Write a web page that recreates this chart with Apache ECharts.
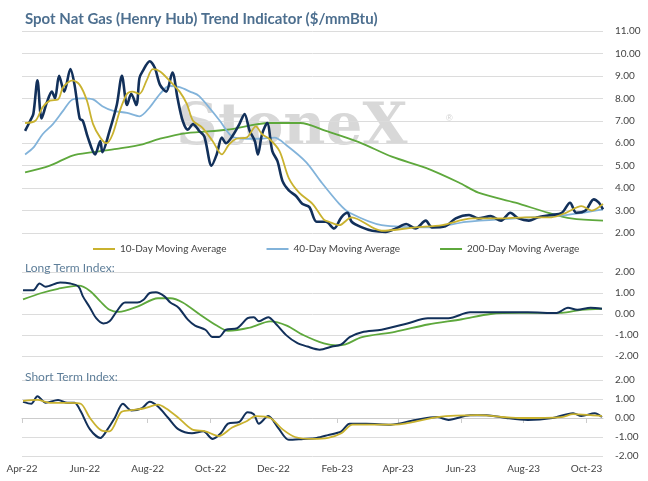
<!DOCTYPE html>
<html>
<head>
<meta charset="utf-8">
<script src="https://cdn.jsdelivr.net/npm/echarts@6/dist/echarts.min.js"></script>
<style>
    html, body { margin: 0; padding: 0; background: #fff; }
    #chart { width: 648px; height: 481px; }
</style>
</head>
<body>
<div id="chart"></div>
<script>
// day offsets from 2022-04-01, value
const price = [[3,6.55],[8,7.0],[11,7.3],[15,8.8],[19,7.1],[24,7.8],[29,8.3],[32,8.0],[36,9.0],[41,8.3],[47,9.3],[51,8.6],[56,7.1],[59,7.0],[64,6.25],[71,5.5],[76,6.1],[78,5.6],[85,6.55],[92,7.7],[97,9.0],[102,7.7],[106,8.2],[111,7.7],[114,8.9],[117,9.2],[124,9.65],[129,9.35],[134,8.6],[140,8.3],[146,9.15],[151,8.0],[156,7.0],[161,6.6],[166,6.85],[172,6.55],[177,6.3],[184,5.0],[189,5.5],[194,6.25],[198,6.0],[204,6.3],[211,6.85],[216,7.3],[221,6.55],[226,6.1],[229,5.5],[233,6.4],[238,6.9],[243,5.65],[248,5.2],[253,4.3],[259,3.9],[266,3.65],[272,3.3],[279,3.15],[286,2.5],[295,2.5],[303,2.2],[310,2.7],[316,2.9],[320,2.5],[330,2.25],[340,2.1],[353,2.05],[363,2.2],[373,2.4],[382,2.2],[392,2.55],[398,2.25],[411,2.3],[421,2.65],[434,2.8],[443,2.65],[455,2.75],[465,2.55],[474,2.9],[482,2.65],[492,2.55],[501,2.7],[514,2.8],[524,2.9],[532,3.35],[538,2.9],[547,3.0],[555,3.5],[560,3.35],[564,3.05]];
const ma10 = [[3,6.9],[13,7.0],[20,7.6],[27,7.9],[35,7.95],[40,8.5],[49,8.8],[56,8.6],[63,7.9],[69,6.85],[76,6.25],[82,6.0],[88,6.4],[95,7.45],[102,8.2],[107,8.3],[114,8.2],[121,8.8],[127,9.3],[134,9.2],[143,8.8],[153,8.3],[160,7.75],[166,7.0],[175,6.7],[185,6.1],[194,5.5],[201,5.95],[208,6.2],[218,6.25],[227,6.75],[233,6.4],[240,6.2],[250,5.65],[259,4.45],[269,3.8],[282,3.3],[293,2.6],[298,2.5],[308,2.35],[320,2.7],[349,2.1],[382,2.25],[408,2.35],[437,2.65],[463,2.65],[489,2.7],[514,2.7],[528,2.9],[543,3.2],[553,3.0],[564,3.3]];
const ma40 = [[3,5.5],[11,5.8],[20,6.4],[30,6.85],[40,7.45],[49,7.95],[59,8.0],[69,7.95],[78,7.65],[88,7.45],[102,7.35],[114,7.2],[124,7.6],[134,8.2],[143,8.55],[153,8.5],[163,8.3],[172,8.1],[192,7.0],[204,6.3],[218,6.2],[230,6.2],[245,6.25],[257,5.9],[276,5.15],[290,4.3],[308,3.3],[318,2.9],[349,2.35],[398,2.25],[431,2.5],[479,2.65],[528,2.8],[564,3.05]];
const ma200 = [[3,4.7],[27,5.0],[49,5.45],[69,5.6],[92,5.75],[117,5.95],[134,6.2],[160,6.45],[199,6.6],[240,6.9],[270,6.9],[295,6.55],[327,6.05],[359,5.4],[392,4.9],[424,4.25],[443,3.8],[479,3.35],[511,2.9],[533,2.65],[564,2.55]];
const longIdx = [[1,1.13],[11,1.13],[17,1.45],[23,1.3],[37,1.5],[47,1.45],[55,1.3],[59,0.85],[66,0.3],[72,-0.2],[79,-0.45],[85,-0.35],[92,0.13],[100,0.55],[112,0.55],[118,0.68],[124,1.0],[130,1.03],[138,0.85],[144,0.55],[152,0.3],[161,-0.27],[168,-0.55],[178,-0.75],[185,-1.1],[191,-1.1],[198,-0.75],[209,-0.67],[219,-0.2],[225,-0.15],[230,-0.35],[239,-0.15],[247,-0.5],[257,-1.03],[267,-1.38],[277,-1.55],[289,-1.7],[301,-1.55],[310,-1.45],[318,-1.1],[330,-0.87],[349,-0.75],[374,-0.45],[394,-0.2],[414,-0.2],[435,0.08],[463,0.08],[491,0.08],[519,0.05],[530,0.3],[539,0.2],[552,0.3],[563,0.25]];
const longSignal = [[1,0.7],[19,1.0],[35,1.2],[55,1.35],[66,1.1],[76,0.6],[85,0.2],[94,0.1],[112,0.35],[132,0.75],[144,0.75],[156,0.55],[172,0.0],[189,-0.55],[200,-0.8],[221,-0.65],[241,-0.35],[257,-0.55],[273,-1.0],[293,-1.4],[306,-1.5],[314,-1.45],[330,-1.1],[362,-0.85],[394,-0.5],[427,-0.25],[455,0.0],[483,0.05],[524,0.05],[543,0.2],[563,0.25]];
const shortIdx = [[1,0.85],[9,0.75],[15,1.15],[23,0.8],[35,0.95],[44,0.8],[51,0.8],[57,0.35],[66,-0.6],[76,-1.05],[83,-0.6],[90,0.0],[98,0.75],[106,0.4],[116,0.5],[124,0.85],[132,0.6],[142,0.0],[152,-0.6],[165,-0.8],[176,-0.7],[185,-1.1],[193,-0.8],[200,-0.3],[211,-0.2],[219,0.3],[225,0.2],[230,-0.3],[239,0.1],[249,-0.55],[259,-1.15],[273,-1.1],[286,-1.05],[297,-0.9],[310,-0.7],[318,-0.3],[334,-0.3],[358,-0.35],[382,-0.1],[403,0.05],[414,-0.1],[435,0.15],[451,0.15],[470,0.0],[491,-0.1],[515,0.0],[535,0.25],[543,0.1],[556,0.25],[563,0.05]];
const shortSignal = [[1,0.9],[15,0.95],[27,0.8],[47,0.8],[57,0.75],[66,0.0],[77,-0.65],[85,-0.7],[96,0.3],[104,0.4],[118,0.5],[132,0.7],[140,0.5],[152,0.0],[165,-0.6],[178,-0.7],[191,-0.95],[204,-0.5],[217,-0.2],[227,0.1],[241,0.0],[253,-0.6],[265,-1.0],[282,-1.1],[297,-1.05],[310,-0.8],[321,-0.35],[362,-0.35],[403,0.05],[442,0.15],[483,0.0],[524,0.05],[535,0.2],[552,0.15],[563,0.1]];
const monthTicks = ['2022-04-01','2022-06-01','2022-08-01','2022-10-01','2022-12-01','2023-02-01','2023-04-01','2023-06-01','2023-08-01','2023-10-01'];
const monthNames = ['Jan','Feb','Mar','Apr','May','Jun','Jul','Aug','Sep','Oct','Nov','Dec'];

const START = Date.UTC(2022, 3, 1);
const DAY = 86400000;
const toTime = arr => arr.map(p => [START + p[0] * DAY, p[1]]);
const tickTimes = monthTicks.map(s => Date.parse(s + 'T00:00:00Z'));
const xMax = Date.UTC(2023, 9, 17);

const chart = echarts.init(document.getElementById('chart'));
const font = 'Lato, "Open Sans", sans-serif';
const navy = '#12305a', gold = '#c9b22f', blue = '#82b3da', green = '#5ea83c';

function xAxis(idx, showLabels) {
    return {
        type: 'value', gridIndex: idx, min: START, max: xMax,
        axisLine: { show: showLabels, lineStyle: { color: '#ccc' } },
        axisTick: { show: showLabels, customValues: tickTimes, lineStyle: { color: '#ccc' } },
        splitLine: { show: false },
        axisLabel: {
            show: showLabels, customValues: tickTimes, color: '#444', fontSize: 10, fontFamily: font, margin: 8,
            formatter: v => { const d = new Date(v); return monthNames[d.getUTCMonth()] + '-' + String(d.getUTCFullYear()).slice(2); }
        }
    };
}
function yAxis(idx, min, max) {
    return {
        type: 'value', gridIndex: idx, position: 'right', min: min, max: max, interval: 1,
        axisLine: { show: false }, axisTick: { show: false },
        splitLine: { lineStyle: { color: '#dcdcdc' } },
        axisLabel: { color: '#444', fontSize: 10, fontFamily: font, margin: 12, formatter: v => v.toFixed(2) }
    };
}
function line(name, data, color, width, xi) {
    return { name: name, type: 'line', data: toTime(data), xAxisIndex: xi, yAxisIndex: xi,
        showSymbol: false, smooth: 0.3, lineStyle: { color: color, width: width }, itemStyle: { color: color } };
}

chart.setOption({
    animation: false,
    title: [
        { text: 'Spot Nat Gas (Henry Hub) Trend Indicator ($/mmBtu)', left: 20, top: 7,
          textStyle: { color: '#4d6f8f', fontSize: 15, fontWeight: 'bold', fontFamily: font } },
        { text: 'Long Term Index:', left: 20, top: 257, textStyle: { color: '#5e7e99', fontSize: 12, fontWeight: 'normal', fontFamily: font } },
        { text: 'Short Term Index:', left: 20, top: 366, textStyle: { color: '#5e7e99', fontSize: 12, fontWeight: 'normal', fontFamily: font } }
    ],
    graphic: [
        { type: 'text', left: 176, top: 100, z: 0, silent: true,
          style: { text: 'StoneX', font: 'bold 58px "DejaVu Serif", serif', fill: 'rgba(190,190,190,0.6)' } },
        { type: 'text', left: 446, top: 114, z: 0, silent: true,
          style: { text: '®', font: '9px sans-serif', fill: 'rgba(190,190,190,0.7)' } }
    ],
    legend: {
        left: 88, top: 239, itemGap: 40, itemWidth: 22, itemHeight: 2, icon: 'rect',
        data: ['10-Day Moving Average', '40-Day Moving Average', '200-Day Moving Average'],
        textStyle: { color: '#444', fontSize: 10, fontFamily: font }
    },
    grid: [
        { left: 22, right: 45, top: 31, height: 202 },
        { left: 22, right: 45, top: 272, height: 84 },
        { left: 22, right: 45, top: 380, height: 76 }
    ],
    xAxis: [xAxis(0, false), xAxis(1, false), xAxis(2, true)],
    yAxis: [yAxis(0, 2, 11), yAxis(1, -2, 2), yAxis(2, -2, 2)],
    series: [
        line('200-Day Moving Average', ma200, green, 1.8, 0),
        line('40-Day Moving Average', ma40, blue, 1.8, 0),
        line('Price', price, navy, 2.6, 0),
        line('10-Day Moving Average', ma10, gold, 1.8, 0),
        line('Long Signal', longSignal, green, 1.8, 1),
        line('Long Index', longIdx, navy, 2, 1),
        line('Short Index', shortIdx, navy, 2, 2),
        line('Short Signal', shortSignal, gold, 1.8, 2)
    ]
});
</script>
</body>
</html>
